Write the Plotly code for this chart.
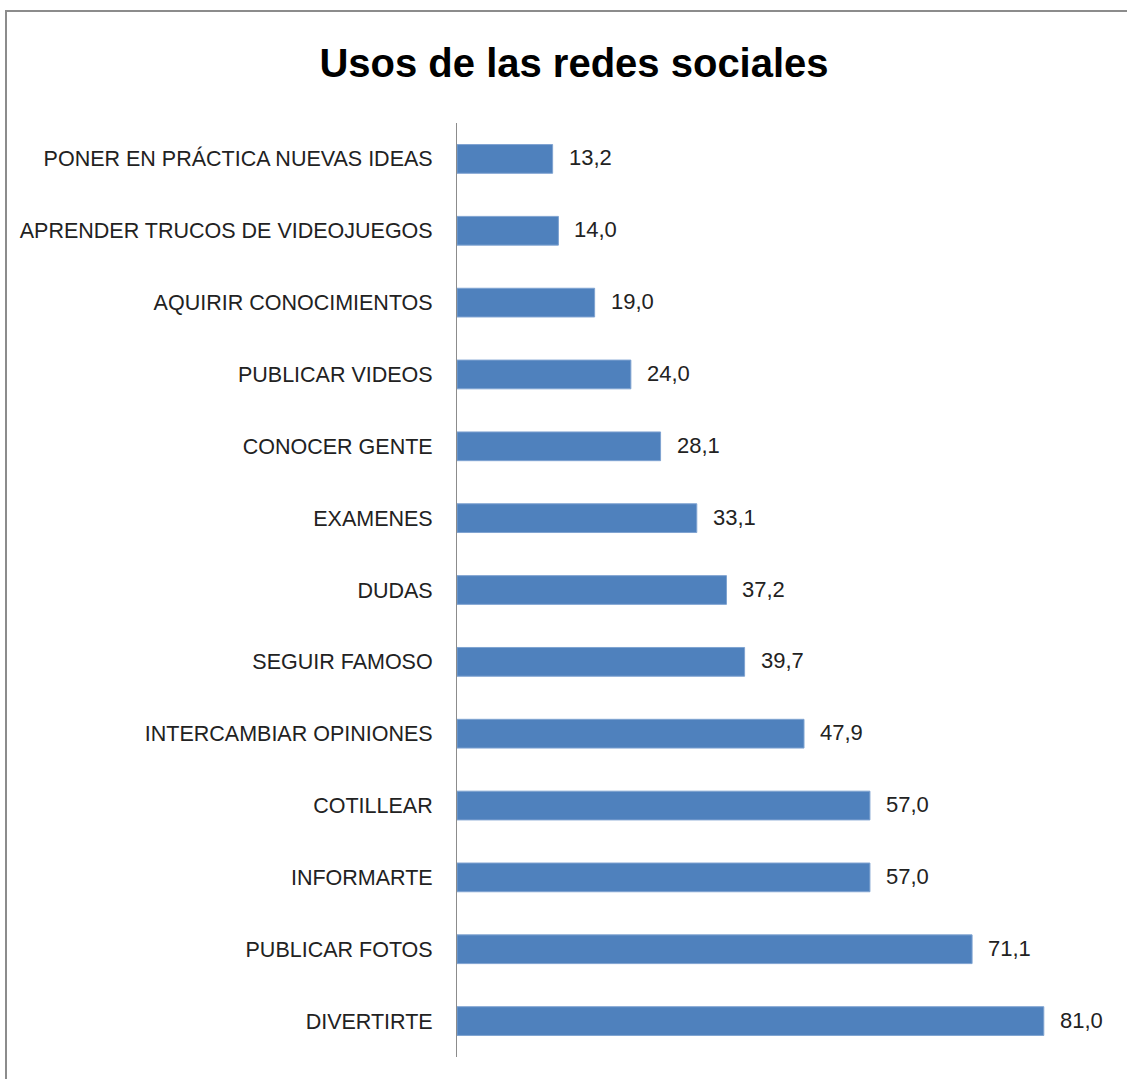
import plotly.graph_objects as go

categories = [
    "DIVERTIRTE",
    "PUBLICAR FOTOS",
    "INFORMARTE",
    "COTILLEAR",
    "INTERCAMBIAR OPINIONES",
    "SEGUIR FAMOSO",
    "DUDAS",
    "EXAMENES",
    "CONOCER GENTE",
    "PUBLICAR VIDEOS",
    "AQUIRIR CONOCIMIENTOS",
    "APRENDER TRUCOS DE VIDEOJUEGOS",
    "PONER EN PRÁCTICA NUEVAS IDEAS",
]
values = [81.0, 71.1, 57.0, 57.0, 47.9, 39.7, 37.2, 33.1, 28.1, 24.0, 19.0, 14.0, 13.2]
title_text = "Usos de las redes sociales"

W, H = 1127, 1079
L, T = 457, 123
plot_bottom = 1057
R = 18
B = H - plot_bottom
pw = W - L - R
ph = H - T - B

fig = go.Figure()
fig.add_trace(go.Bar(
    x=values, y=categories, orientation="h",
    marker=dict(color="#4F81BD", line=dict(color="#7FA3D1", width=1)),
    width=0.4, hoverinfo="skip",
))

for v, c in zip(values, categories):
    fig.add_annotation(
        x=v, y=c, xref="x", yref="y",
        text=f"{v:.1f}".replace(".", ","),
        showarrow=False, xanchor="left", xshift=14, yshift=1,
        font=dict(family="Liberation Sans", size=22, color="#222222"),
    )

def px_x(p):
    return (p - L) / pw

def px_y(p):
    return (H - B - p) / ph

fig.add_shape(type="rect", xref="paper", yref="paper",
              x0=px_x(6), x1=px_x(W + 20), y0=px_y(H + 20), y1=px_y(11),
              line=dict(color="#8C8C8C", width=2), fillcolor="rgba(0,0,0,0)", layer="below")

fig.update_layout(
    width=W, height=H,
    margin=dict(l=L, r=R, t=T, b=B),
    paper_bgcolor="white", plot_bgcolor="white",
    showlegend=False,
    title=dict(text=f"<b>{title_text}</b>", x=574 / W, xanchor="center",
               y=1 - 63 / H, yanchor="middle",
               font=dict(family="Liberation Sans", size=40, color="#000000")),
    xaxis=dict(range=[0, 90], visible=False, fixedrange=True),
    yaxis=dict(showline=True, linecolor="#8C8C8C", linewidth=1,
               showgrid=False, zeroline=False, ticks="",
               ticklabelstandoff=19,
               tickfont=dict(family="Liberation Sans", size=21.5, color="#222222"),
               categoryorder="array", categoryarray=categories,
               range=[-0.5, len(categories) - 0.5]),
)

fig.write_html(
    "out.html",
    config={"displayModeBar": False},
    post_script="document.body.style.margin='0';document.body.style.overflow='hidden';",
)
